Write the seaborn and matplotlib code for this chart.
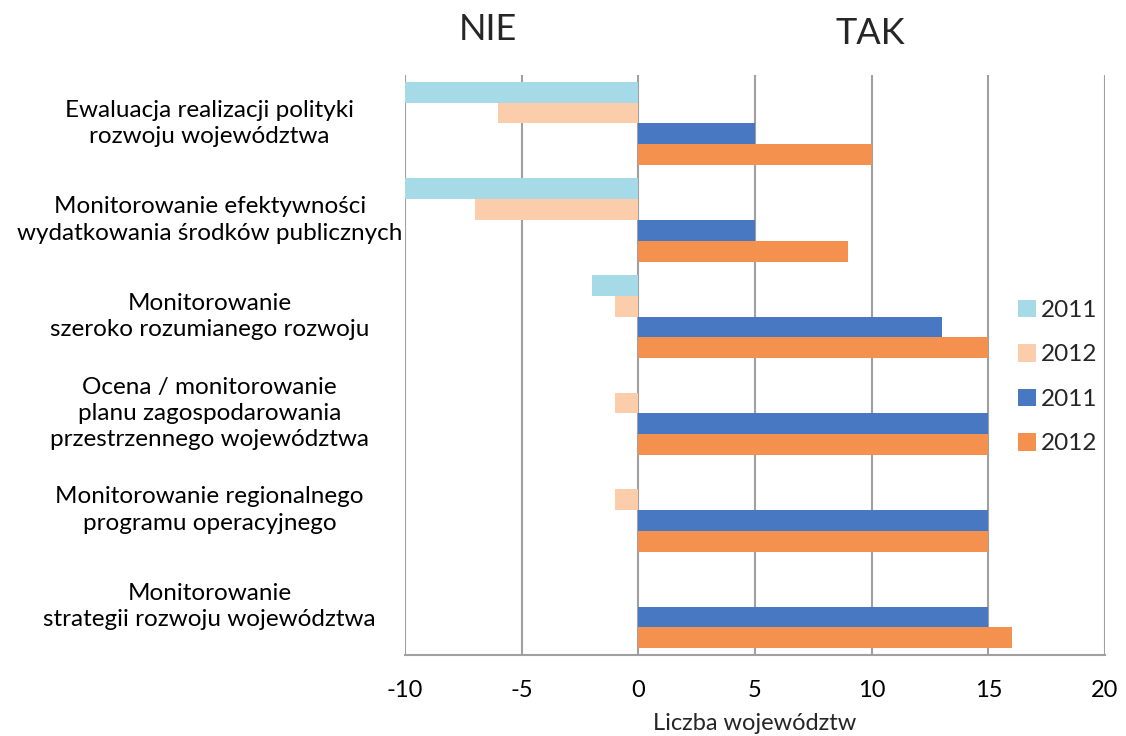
import matplotlib
matplotlib.use("Agg")
import matplotlib.pyplot as plt
from matplotlib.patches import Patch
import seaborn as sns
import pandas as pd

# Survey categories (one per row of bars)
categories = [
    "Ewaluacja realizacji polityki\nrozwoju województwa",
    "Monitorowanie efektywności\nwydatkowania środków publicznych",
    "Monitorowanie\nszeroko rozumianego rozwoju",
    "Ocena / monitorowanie\nplanu zagospodarowania\nprzestrzennego województwa",
    "Monitorowanie regionalnego\nprogramu operacyjnego",
    "Monitorowanie\nstrategii rozwoju województwa",
]

# Number of voivodeships answering "NIE" (negative side) and "TAK"
nie_2011 = [-10, -10, -2, 0, 0, 0]
nie_2012 = [-6, -7, -1, -1, -1, 0]
tak_2011 = [5, 5, 13, 15, 15, 15]
tak_2012 = [10, 9, 15, 15, 15, 16]

series_names = ["NIE 2011", "NIE 2012", "TAK 2011", "TAK 2012"]
legend_labels = ["2011", "2012", "2011", "2012"]
colors = ["#A6DAE7", "#FCCDAB", "#4778C1", "#F5914F"]

frames = []
for name, vals in zip(series_names, [nie_2011, nie_2012, tak_2011, tak_2012]):
    frames.append(pd.DataFrame({"category": categories, "value": vals, "series": name}))
df = pd.concat(frames, ignore_index=True)

sns.set_theme(style="white")
plt.rcParams["font.family"] = ["Lato", "DejaVu Sans"]

fig = plt.figure(figsize=(11.26, 7.36), dpi=100)
ax = fig.add_axes([405 / 1126, 1 - 655 / 736, 700 / 1126, 580 / 736])

sns.barplot(
    data=df, x="value", y="category", hue="series",
    hue_order=series_names, order=categories, palette=colors,
    orient="h", width=0.86, dodge=True, saturation=1,
    linewidth=0, legend=False, errorbar=None, ax=ax,
)

ax.set_xlim(-10, 20)
ax.set_ylim(len(categories) - 0.5, -0.5)
ax.set_xticks(range(-10, 21, 5))
ax.set_xticklabels([str(v) for v in range(-10, 21, 5)], fontsize=17)
ax.tick_params(axis="x", length=0, pad=18, colors="#000000")
ax.set_yticks([])
ax.set_ylabel("")
ax.set_xlabel("")

# vertical gridlines behind the bars
ax.set_axisbelow(True)
ax.grid(axis="x", color="#A0A0A0", linewidth=1.5)
ax.grid(axis="y", visible=False)
for side in ["top", "right", "left"]:
    ax.spines[side].set_visible(False)
ax.spines["bottom"].set_color("#A0A0A0")
ax.spines["bottom"].set_linewidth(1.5)

# category labels, centred in the left margin
for i, label in enumerate(categories):
    ax.text(-0.279, i, label, transform=ax.get_yaxis_transform(),
            ha="center", va="center", multialignment="center",
            fontsize=17.5, linespacing=1.3, color="#000000")

# axis title near the bottom edge
fig.text(755 / 1126, 1 - 730 / 736, "Liczba województw",
         ha="center", va="baseline", fontsize=17)

# side headers
fig.text(488 / 1126, 1 - 30 / 736, "NIE", ha="center", va="center", fontsize=26)
fig.text(870 / 1126, 1 - 33 / 736, "TAK", ha="center", va="center", fontsize=26)

handles = [Patch(facecolor=c, edgecolor="none") for c in colors]
fig.legend(handles, legend_labels, loc="center left",
           bbox_to_anchor=(1008 / 1126, 1 - 377 / 736), frameon=False,
           fontsize=17.5, handlelength=0.75, handleheight=0.75,
           labelspacing=0.95, handletextpad=0.2, borderaxespad=0)

fig.savefig("out.png", dpi=100)
